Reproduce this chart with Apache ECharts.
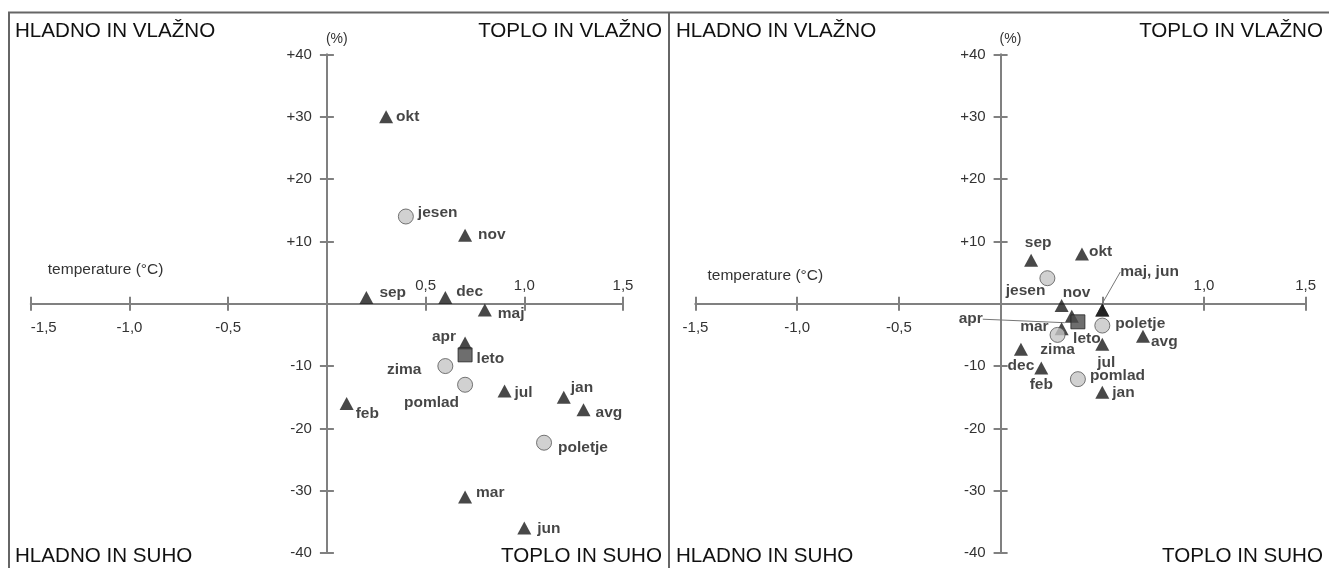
<!DOCTYPE html>
<html><head><meta charset="utf-8">
<script src="https://cdn.jsdelivr.net/npm/echarts/dist/echarts.min.js"></script>
<style>html,body{margin:0;padding:0;background:#fff}#c{width:1329px;height:568px}</style>
</head><body><div id="c"></div>
<script>
// ---------- data ----------
const months  = ['jan','feb','mar','apr','maj','jun','jul','avg','sep','okt','nov','dec'];
const seasons = ['zima','pomlad','poletje','jesen'];
const yearName = ['leto'];

// left panel: temperature change (°C), precipitation change (%)
const leftMonthTemp  = [1.2, 0.1, 0.7, 0.7, 0.8, 1.0, 0.9, 1.3, 0.2, 0.3, 0.7, 0.6];
const leftMonthPrec  = [-15, -16, -31, -6.3, -1, -36, -14, -17, 1, 30, 11, 1];
const leftSeasonTemp = [0.6, 0.7, 1.1, 0.4];
const leftSeasonPrec = [-10, -13, -22.3, 14];
const leftYearTemp   = [0.7];
const leftYearPrec   = [-8.2];

// right panel
const rightMonthTemp  = [0.5, 0.2, 0.3, 0.35, 0.5, 0.5, 0.5, 0.7, 0.15, 0.4, 0.3, 0.1];
const rightMonthPrec  = [-14.2, -10.3, -4, -2, -1, -1, -6.5, -5.2, 7, 8, -0.3, -7.3];
const rightSeasonTemp = [0.28, 0.38, 0.5, 0.23];
const rightSeasonPrec = [-5, -12.1, -3.5, 4.1];
const rightYearTemp   = [0.38];
const rightYearPrec   = [-2.9];

const xTicks = [-1.5, -1.0, -0.5, 0, 0.5, 1.0, 1.5];
const yTicks = [-40, -30, -20, -10, 0, 10, 20, 30, 40];

const quadrantLabels = ['HLADNO IN VLAŽNO', 'TOPLO IN VLAŽNO', 'HLADNO IN SUHO', 'TOPLO IN SUHO'];
const xName = 'temperature (°C)';
const yName = '(%)';

// ---------- styles ----------
const FONT = "'Liberation Sans', Arial, sans-serif";
const labelPlacementLeft = {
  okt:['right',-2,0], jesen:['right',-1,-4], nov:['right',1,0], sep:['right',1,-5],
  dec:['right',-1,-6], maj:['right',1,4], apr:['left',3,-6], leto:['right',-1,4],
  zima:['left',-11,4], pomlad:['left',7,18], jul:['right',-2,2], jan:['right',-5,-10],
  avg:['right',0,3], poletje:['right',1,5], feb:['right',-3,10], mar:['right',-1,-4], jun:['right',1,1]
};
const labelPlacementRight = {
  sep:['top',7,2], okt:['right',-5,-2], jesen:['left',11,13], nov:['top',15,7],
  maj:['right',6,-38], jun:['right',0,0], apr:['left',-77,3], leto:['bottom',9,-4],
  mar:['left',-1,-2], zima:['bottom',0,-6], poletje:['right',0,-2], avg:['right',-4,6],
  jul:['bottom',4,-1], dec:['bottom',0,-3], feb:['bottom',0,-3], pomlad:['right',-1,-3], jan:['right',-2,0]
};
const rightLabelText = { maj:'maj, jun', jun:'' };
const rightLeaders = ['maj', 'apr'];

const gridBoxes = [
  { left: 30.8, top: 54.5, width: 592.2, height: 498.5 },
  { left: 695.5, top: 54.5, width: 610.2, height: 498.5 }
];

function items(names, xs, ys, placement, textMap, leaders) {
  return names.map((n, i) => {
    const p = placement[n] || ['right',0,0];
    const txt = textMap && (n in textMap) ? textMap[n] : n;
    const it = {
      name: n, value: [xs[i], ys[i]],
      label: { show: txt !== '', position: p[0], formatter: txt }
    };
    if (leaders && leaders.indexOf(n) >= 0) {
      it.labelLine = { show: true, length2: 0, lineStyle: { color: '#777', width: 1 } };
    }
    return it;
  });
}

const labelBase = { show: true, fontWeight: 'bold', fontSize: 15.5, color: '#161616', fontFamily: FONT, distance: 5 };

function makeSeries(gi, name, names, xs, ys, placement, textMap, leaders, symbolOpts) {
  return Object.assign({
    type: 'scatter', name: name + gi, xAxisIndex: gi*2, yAxisIndex: gi*2,
    label: labelBase, emphasis: { disabled: true },
    data: items(names, xs, ys, placement, textMap, leaders),
    labelLayout: function (params) {
      const p = placement[names[params.dataIndex]] || ['right',0,0];
      return { dx: p[1], dy: p[2] };
    }
  }, symbolOpts);
}

function panelSeries(gi, mT, mP, sT, sP, yT, yP, placement, textMap, leaders) {
  return [
    makeSeries(gi, 'months', months, mT, mP, placement, textMap, leaders,
      { symbol: 'triangle', symbolSize: [14, 13], z: 3, itemStyle: { color: '#1a1a1a' } }),
    makeSeries(gi, 'seasons', seasons, sT, sP, placement, textMap, leaders,
      { symbol: 'circle', symbolSize: 15, z: 4, itemStyle: { color: '#c6c6c6', borderColor: '#555', borderWidth: 1 } }),
    makeSeries(gi, 'year', yearName, yT, yP, placement, textMap, leaders,
      { symbol: 'rect', symbolSize: 14, z: 5, itemStyle: { color: '#4a4a4a', borderColor: '#222', borderWidth: 1 } })
  ];
}

const axisColor = '#808080';
const fmtX = v => v.toFixed(1).replace('.', ',');
const fmtY = v => v > 0 ? '+' + v : (v < 0 ? String(v) : '');

function xAxes(gi, alignMin, namePad, hideTop) {
  const off = -gridBoxes[gi].height / 2;
  const base = {
    type: 'value', gridIndex: gi, min: xTicks[0], max: xTicks[xTicks.length-1], interval: 0.5,
    splitLine: { show: false }, offset: off,
    axisLine: { show: true, onZero: false, lineStyle: { color: axisColor, width: 2 } },
    axisTick: { show: true, length: 7, lineStyle: { color: axisColor, width: 2 } }
  };
  return [
    Object.assign({}, base, {
      position: 'bottom',
      name: xName, nameLocation: 'start', nameGap: namePad[0],
      nameTextStyle: { align: 'left', verticalAlign: 'bottom', padding: [0,0,namePad[1],0], fontSize: 15.5, color: '#333', fontFamily: FONT },
      axisLabel: { margin: 17, fontSize: 15, color: '#333', fontFamily: FONT, alignMinLabel: alignMin,
        formatter: v => v < 0 ? fmtX(v) : '' }
    }),
    Object.assign({}, base, {
      position: 'top',
      axisLabel: { margin: 10, fontSize: 15, color: '#333', fontFamily: FONT,
        formatter: v => (v > 0 && hideTop.indexOf(v) < 0) ? fmtX(v) : '' }
    })
  ];
}
function yAxes(gi) {
  const off = -gridBoxes[gi].width / 2;
  const base = {
    type: 'value', gridIndex: gi, min: yTicks[0], max: yTicks[yTicks.length-1], interval: 10,
    splitLine: { show: false }, offset: off,
    axisLine: { show: true, onZero: false, lineStyle: { color: axisColor, width: 2 } },
    axisTick: { show: true, length: 7, lineStyle: { color: axisColor, width: 2 } }
  };
  return [
    Object.assign({}, base, {
      position: 'left',
      name: yName, nameLocation: 'end', nameGap: 8,
      nameTextStyle: { align: 'left', verticalAlign: 'bottom', fontSize: 14, color: '#333', fontFamily: FONT, padding: [0,0,0,-1] },
      axisLabel: { margin: 15, fontSize: 15, color: '#333', fontFamily: FONT, formatter: fmtY }
    }),
    Object.assign({}, base, { position: 'right', axisLabel: { show: false } })
  ];
}

const qStyle = { fontSize: 20.6, fontFamily: FONT, fill: '#111' };
function quadTexts(l, r) {
  return [
    { type: 'text', left: l, top: 21, style: Object.assign({ text: quadrantLabels[0] }, qStyle) },
    { type: 'text', right: 1329 - r, top: 21, style: Object.assign({ text: quadrantLabels[1] }, qStyle) },
    { type: 'text', left: l, top: 546, style: Object.assign({ text: quadrantLabels[2] }, qStyle) },
    { type: 'text', right: 1329 - r, top: 546, style: Object.assign({ text: quadrantLabels[3] }, qStyle) }
  ];
}

const option = {
  animation: false,
  backgroundColor: '#fff',
  grid: gridBoxes.map(g => Object.assign({ containLabel: false, outerBoundsMode: 'none' }, g)),
  xAxis: [].concat(xAxes(0, 'left', [-17, 26], []), xAxes(1, undefined, [-12, 20], [0.5])),
  yAxis: [].concat(yAxes(0), yAxes(1)),
  series: [].concat(
    panelSeries(0, leftMonthTemp, leftMonthPrec, leftSeasonTemp, leftSeasonPrec, leftYearTemp, leftYearPrec, labelPlacementLeft, null, null),
    panelSeries(1, rightMonthTemp, rightMonthPrec, rightSeasonTemp, rightSeasonPrec, rightYearTemp, rightYearPrec, labelPlacementRight, rightLabelText, rightLeaders)
  ),
  graphic: [
    { type: 'rect', silent: true, shape: { x: 9, y: 12.5, width: 1400, height: 600 }, style: { fill: 'none', stroke: '#666', lineWidth: 2 } },
    { type: 'line', silent: true, shape: { x1: 669, y1: 12.5, x2: 669, y2: 568 }, style: { stroke: '#666', lineWidth: 2 } }
  ].concat(quadTexts(15, 662), quadTexts(676, 1323))
};

const chart = echarts.init(document.getElementById('c'), null, { renderer: 'canvas' });
chart.setOption(option);
</script></body></html>
